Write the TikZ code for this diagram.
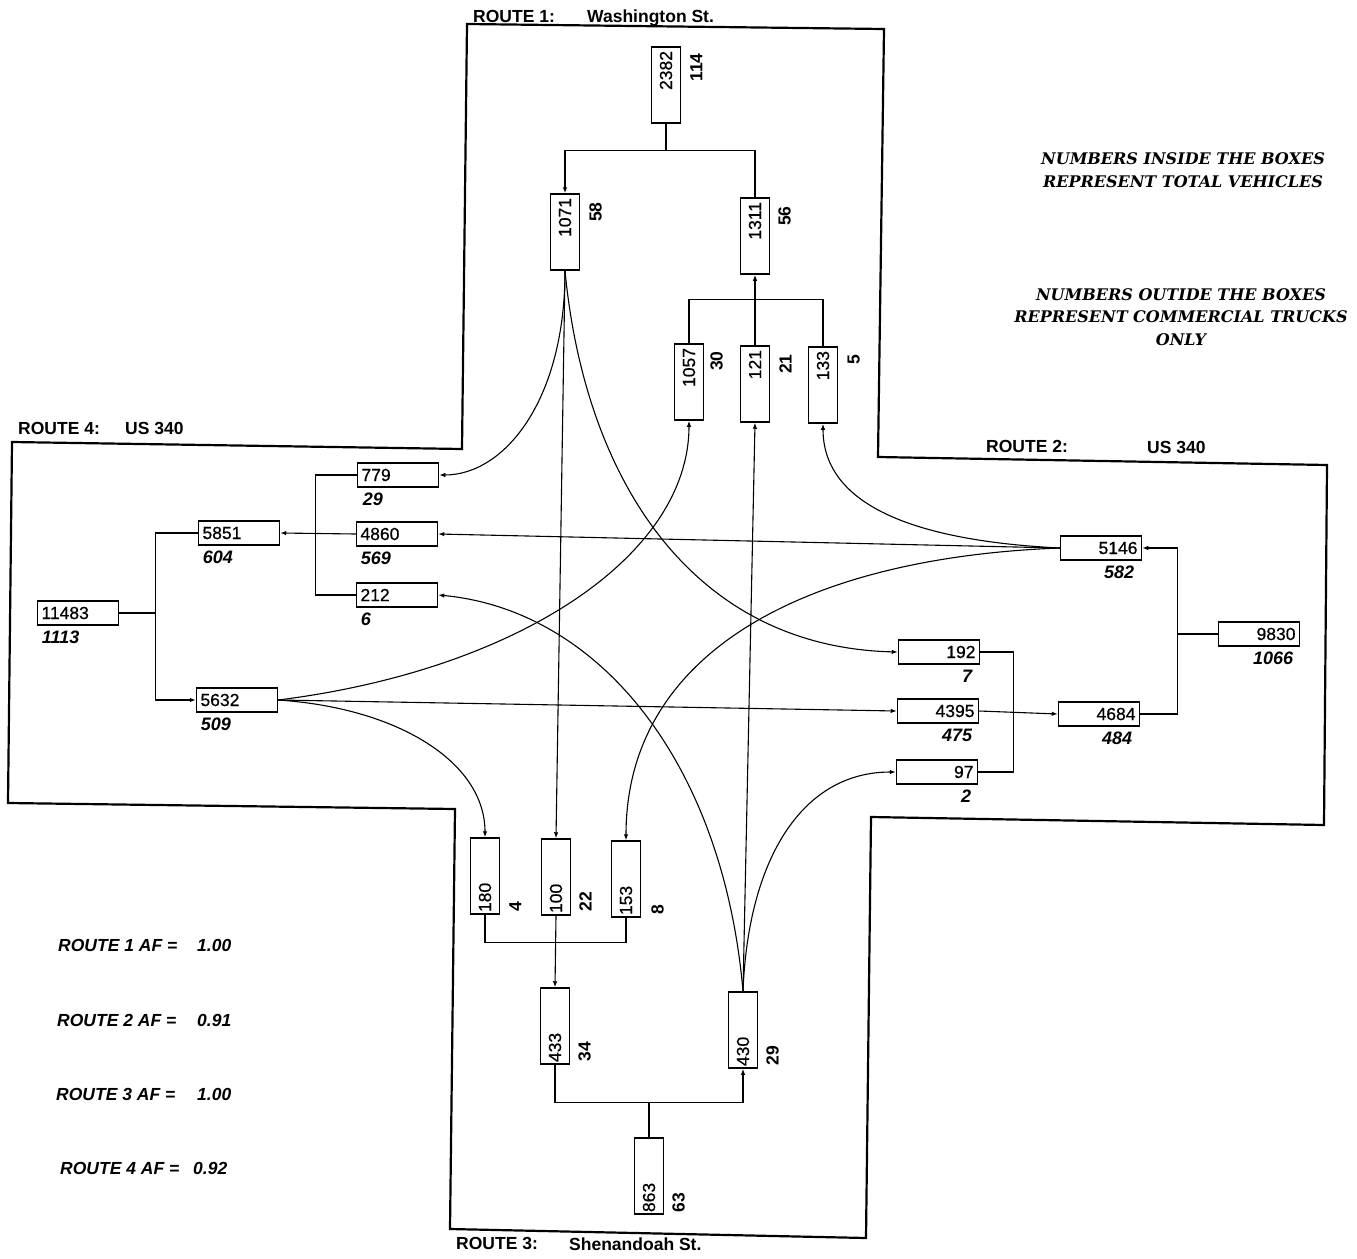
\documentclass[tikz,border=0pt]{standalone}
\usepackage{fontspec}
\setmainfont{Liberation Sans}
\newfontfamily\notefont{DejaVu Serif}
\newfontfamily\boxfont{Liberation Sans}[FakeBold=0.6]
\usetikzlibrary{arrows.meta}

\tikzset{
  outline/.style={line width=2.2pt},
  flow/.style={line width=1.1pt},
  flowarrow/.style={flow, -{Latex[length=6pt,width=4.5pt]}},
  hbox/.style={draw, line width=1.5pt, minimum height=24pt, inner xsep=4pt, inner ysep=0pt,
    text width=73pt, font=\boxfont\fontsize{17.5}{20}\selectfont},
  hboxl/.style={hbox, align=left},
  hboxr/.style={hbox, align=right},
  vboxt/.style={draw, line width=1.5pt, rotate=90, minimum height=29pt, inner xsep=4pt, inner ysep=0pt,
    text width=68pt, align=right, font=\boxfont\fontsize{17.5}{20}\selectfont},
  vboxb/.style={draw, line width=1.5pt, rotate=90, minimum height=29pt, inner xsep=2pt, inner ysep=0pt,
    text width=72pt, align=left, font=\boxfont\fontsize{17.5}{20}\selectfont},
  trk/.style={inner sep=0pt, font=\bfseries\itshape\fontsize{18}{20}\selectfont},
  vtrk/.style={inner sep=0pt, rotate=90, font=\bfseries\fontsize{17.5}{20}\selectfont},
  routelbl/.style={anchor=base west, inner sep=0pt, font=\bfseries\fontsize{17.5}{20}\selectfont},
  aflbl/.style={anchor=base west, inner sep=0pt, font=\bfseries\itshape\fontsize{17.5}{20}\selectfont},
  note/.style={align=center, inner sep=0pt, font=\notefont\bfseries\itshape\fontsize{16}{22.5}\selectfont},
}

\begin{document}
\begin{tikzpicture}[x=1pt,y=-1pt]
\useasboundingbox (0,0) rectangle (1357,1258);

% outline of the intersection
\draw[outline] (467,24) -- (884,29) -- (878,457) -- (1327,465) -- (1324,825) -- (871,817)
  -- (866,1238) -- (450,1229) -- (455,809) -- (8,803) -- (12,442) -- (462,449) -- cycle;

% route names
\node[routelbl] (r1) at (473,22) {ROUTE 1:};
\node[routelbl] (r1name) at (587,23) {Washington St.};
\node[routelbl] (r2) at (986,452) {ROUTE 2:};
\node[routelbl] (r2name) at (1147,453) {US 340};
\node[routelbl] (r3) at (456,1249) {ROUTE 3:};
\node[routelbl] (r3name) at (569,1250) {Shenandoah St.};
\node[routelbl] (r4) at (18,434) {ROUTE 4:};
\node[routelbl] (r4name) at (125,434) {US 340};

% legend
\node[note] (note1) at (1183,170) {NUMBERS INSIDE THE BOXES\\REPRESENT TOTAL VEHICLES};
\node[note] (note2) at (1181,317) {NUMBERS OUTIDE THE BOXES\\REPRESENT COMMERCIAL TRUCKS\\ONLY};

% adjustment factors
\node[aflbl] (af1) at (58,951) {ROUTE 1 AF =};
\node[aflbl] (af1v) at (197,951) {1.00};
\node[aflbl] (af2) at (57,1026) {ROUTE 2 AF =};
\node[aflbl] (af2v) at (197,1026) {0.91};
\node[aflbl] (af3) at (56,1100) {ROUTE 3 AF =};
\node[aflbl] (af3v) at (197,1100) {1.00};
\node[aflbl] (af4) at (60,1174) {ROUTE 4 AF =};
\node[aflbl] (af4v) at (193,1174) {0.92};

% route 1 boxes
\node[vboxt] (b2382) at (666,85) {2382};
\node[vboxt] (b1071) at (565,232) {1071};
\node[vboxt] (b1311) at (755,236) {1311};
\node[vboxt] (b1057) at (689,382) {1057};
\node[vboxt] (b121) at (755,384) {121};
\node[vboxt] (b133) at (823,385) {133};
\node[vtrk, anchor=north east] (t2382) at ([shift={(9,7)}]b2382.south east) {114};
\node[vtrk, anchor=north east] (t1071) at ([shift={(9,9)}]b1071.south east) {58};
\node[vtrk, anchor=north east] (t1311) at ([shift={(8,9)}]b1311.south east) {56};
\node[vtrk, anchor=north east] (t1057) at ([shift={(6,8)}]b1057.south east) {30};
\node[vtrk, anchor=north east] (t121) at ([shift={(9,9)}]b121.south east) {21};
\node[vtrk, anchor=north east] (t133) at ([shift={(9,8)}]b133.south east) {5};

% route 3 boxes
\node[vboxb] (b180) at (485,876) {180};
\node[vboxb] (b100) at (556,877) {100};
\node[vboxb] (b153) at (626,879) {153};
\node[vboxb] (b433) at (555,1026) {433};
\node[vboxb] (b430) at (743,1030) {430};
\node[vboxb] (b863) at (649,1176) {863};
\node[vtrk, anchor=north west] (t180) at ([shift={(9,-3)}]b180.south west) {4};
\node[vtrk, anchor=north west] (t100) at ([shift={(8,-4)}]b100.south west) {22};
\node[vtrk, anchor=north west] (t153) at ([shift={(10,-3)}]b153.south west) {8};
\node[vtrk, anchor=north west] (t433) at ([shift={(8,-3)}]b433.south west) {34};
\node[vtrk, anchor=north west] (t430) at ([shift={(8,-3)}]b430.south west) {29};
\node[vtrk, anchor=north west] (t863) at ([shift={(8,-2)}]b863.south west) {63};

% route 4 boxes
\node[hboxl] (b11483) at (78,613) {11483};
\node[hboxl] (b5851) at (239,533) {5851};
\node[hboxl] (b5632) at (237,700) {5632};
\node[hboxl] (b779) at (398,475) {779};
\node[hboxl] (b4860) at (397,534) {4860};
\node[hboxl] (b212) at (397,595) {212};
\node[trk, anchor=north west] (t11483) at ([shift={(5,5)}]b11483.south west) {1113};
\node[trk, anchor=north west] (t5851) at ([shift={(5,5)}]b5851.south west) {604};
\node[trk, anchor=north west] (t5632) at ([shift={(5,5)}]b5632.south west) {509};
\node[trk, anchor=north west] (t779) at ([shift={(6,5)}]b779.south west) {29};
\node[trk, anchor=north west] (t4860) at ([shift={(5,5)}]b4860.south west) {569};
\node[trk, anchor=north west] (t212) at ([shift={(5,5)}]b212.south west) {6};

% route 2 boxes
\node[hboxr] (b5146) at (1101,548) {5146};
\node[hboxr] (b192) at (939,652) {192};
\node[hboxr] (b4395) at (938,711) {4395};
\node[hboxr] (b97) at (937,772) {97};
\node[hboxr] (b4684) at (1099,714) {4684};
\node[hboxr] (b9830) at (1259,634) {9830};
\node[trk, anchor=north east] (t5146) at ([shift={(-8,5)}]b5146.south east) {582};
\node[trk, anchor=north east] (t192) at ([shift={(-8,5)}]b192.south east) {7};
\node[trk, anchor=north east] (t4395) at ([shift={(-7,5)}]b4395.south east) {475};
\node[trk, anchor=north east] (t97) at ([shift={(-7,5)}]b97.south east) {2};
\node[trk, anchor=north east] (t4684) at ([shift={(-8,5)}]b4684.south east) {484};
\node[trk, anchor=north east] (t9830) at ([shift={(-7,5)}]b9830.south east) {1066};

% splits and merges
\draw[flow] (b2382.west) -- ++(0,27) coordinate (j1);
\draw[flowarrow] (j1) -| (b1071.east);
\draw[flow] (j1) -| (b1311.east);
\draw[flow] (b1057.east) -- ++(0,-44) coordinate (j1b) -| (b133.east);
\draw[flowarrow] (b121.east) -- (b1311.west);

\draw[flow] (b180.west) -- ++(0,28) coordinate (j3) -| (b153.west);
\draw[flowarrow] (b100.west) -- (b433.east);
\draw[flow] (b863.east) -- ++(0,-35) coordinate (j3b);
\draw[flow] (j3b) -| (b433.west);
\draw[flowarrow] (j3b) -| (b430.west);

\draw[flow] (b11483.east) -- ++(36,0) coordinate (j4);
\draw[flow] (j4) |- (b5851.west);
\draw[flowarrow] (j4) |- (b5632.west);
\draw[flow] (b779.west) -- ++(-41,0) coordinate (j4b) |- (b212.west);
\draw[flowarrow] (b4860.west) -- (b5851.east);

\draw[flow] (b192.east) -- ++(33,0) coordinate (j2) |- (b97.east);
\draw[flowarrow] (b4395.east) -- (b4684.west);
\draw[flow] (b9830.west) -- ++(-40,0) coordinate (j2b);
\draw[flowarrow] (j2b) |- (b5146.east);
\draw[flow] (j2b) |- (b4684.east);

% turning movements
\draw[flowarrow] (b1071.west) -- (b100.east);
\draw[flowarrow] (b1071.west) .. controls +(0,130) and +(65,0) .. (b779.east);
\draw[flowarrow] (b1071.west) .. controls +(20,210) and +(-205,-5) .. (b192.west);

\draw[flowarrow] (b5146.west) -- (b4860.east);
\draw[flowarrow] (b5146.west) .. controls +(-160,-8) and +(0,75) .. (b133.west);
\draw[flowarrow] (b5146.west) .. controls +(-260,10) and +(0,-185) .. (b153.east);

\draw[flowarrow] (b5632.east) -- (b4395.west);
\draw[flowarrow] (b5632.east) .. controls +(240,-30) and +(0,135) .. (b1057.west);
\draw[flowarrow] (b5632.east) .. controls +(120,8) and +(0,-75) .. (b180.east);

\draw[flowarrow] (b430.east) -- (b121.west);
\draw[flowarrow] (b430.east) .. controls +(-20,-230) and +(160,15) .. (b212.east);
\draw[flowarrow] (b430.east) .. controls +(5,-130) and +(-95,0) .. (b97.west);
\end{tikzpicture}
\end{document}
